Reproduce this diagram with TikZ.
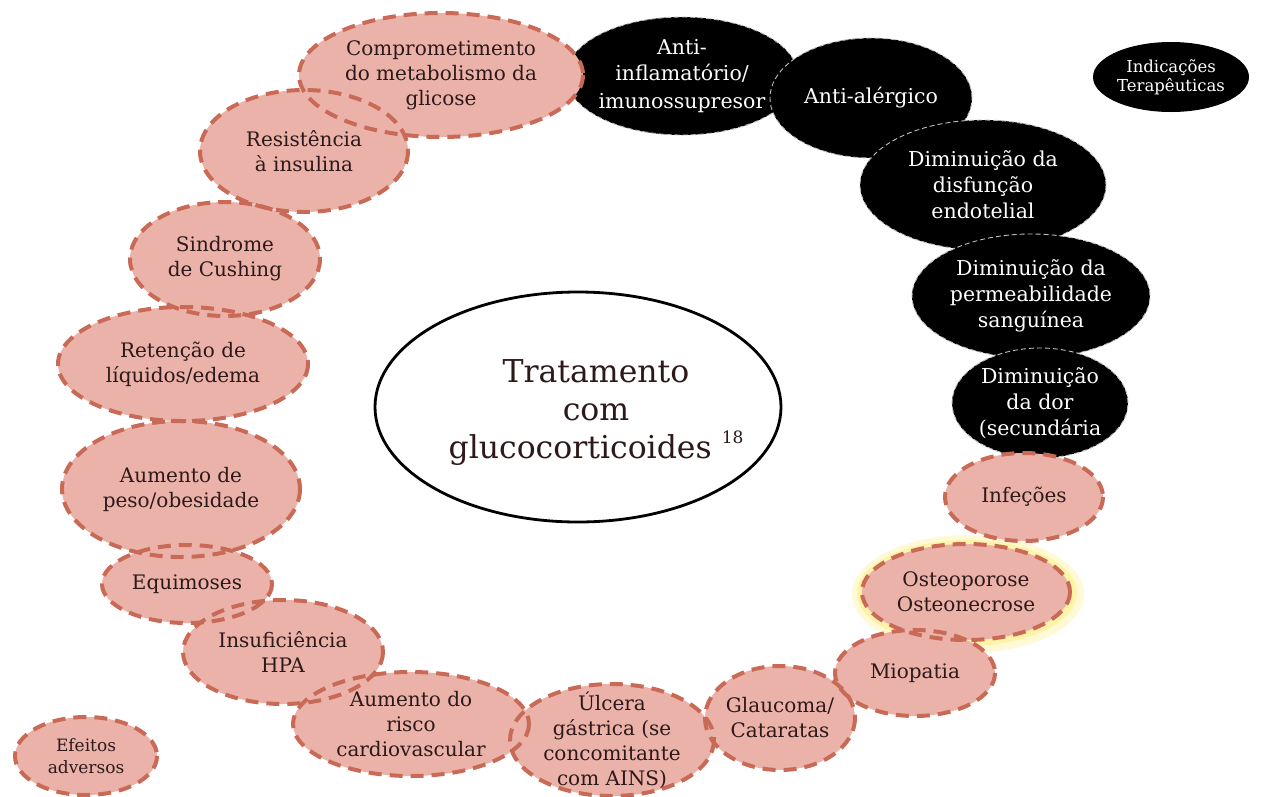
\documentclass[tikz,border=0pt]{standalone}
\usepackage{fontspec}
\setmainfont{DejaVu Serif}
\usetikzlibrary{shapes.geometric}

\definecolor{pinkfill}{RGB}{235,178,170}
\definecolor{pinkedge}{RGB}{200,106,86}
\definecolor{glowyellow}{RGB}{255,236,120}
\definecolor{inkbrown}{RGB}{45,25,25}

\tikzset{
  every node/.style={inner sep=0pt, outer sep=0pt},
  oval/.style n args={2}{ellipse, minimum width={2*#1 pt}, minimum height={2*#2 pt}},
  pinkfillsty/.style={fill=pinkfill},
  pinkedgesty/.style={draw=pinkedge, line width=4pt, dash pattern=on 13pt off 8pt},
  darkoval/.style={fill=black, draw=white!75!black, line width=0.9pt, dash pattern=on 5pt off 3pt},
  darktext/.style={text=white, align=center, font=\fontsize{20.5}{26}\selectfont},
  pinktext/.style={text=inkbrown, align=center, font=\fontsize{20}{25}\selectfont},
  hubsty/.style={draw=black, line width=2.8pt, fill=white},
  hubtext/.style={text=inkbrown, align=center, font=\fontsize{31.5}{38}\selectfont}
}

% name / centre x / centre y / half width / half height / label
\def\darkdata{%
  antiinf/682/76/116/59/{Anti-\\inflamatório/\\[2pt]imunossupresor},
  antial/871/98/101/60/{Anti-alérgico},
  disf/983/185/123/65/{Diminuição da\\disfunção\\endotelial},
  perm/1031/296/119/62/{Diminuição da\\permeabilidade\\sanguínea},
  dor/1040/403/88/55/{Diminuição\\da dor\\(secundária}}

\def\pinkdata{%
  metab/441/75/142/62/{Comprometimento\\do metabolismo da\\glicose},
  resist/304/151/104/61/{Resistência\\à insulina},
  cush/225/259/95/57/{Sindrome\\de Cushing},
  edema/183/364/125/57/{Retenção de\\líquidos/edema},
  peso/181/489/119/68/{Aumento de\\peso/obesidade},
  equim/187/584/85/39/{Equimoses},
  hpa/283/652/100/52/{Insuficiência\\HPA},
  cardio/411/724/118/52/{Aumento do\\risco\\cardiovascular},
  ulcera/612/740/102/56/{Úlcera\\gástrica (se\\concomitante\\com AINS)},
  glauc/780/718/75/52/{Glaucoma/\\Cataratas},
  miop/915/673/80/43/{Miopatia},
  osteo/966/592/104/48/{Osteoporose\\Osteonecrose},
  infec/1024/497/79/44/{Infeções},
  efeitos/86/756/71/39/{}}

\begin{document}
\begin{tikzpicture}[x=1pt, y=-1pt]
  \useasboundingbox (0,0) rectangle (1262,796);

  % therapeutic indications: dark ovals, each laid over the previous one
  \foreach \n/\cx/\cy/\rx/\ry/\t in \darkdata {
    \node[oval={\rx}{\ry}, darkoval] (\n) at (\cx,\cy) {};
  }
  \foreach \n/\cx/\cy/\rx/\ry/\t in \darkdata {
    \node[darktext] at (\n) {\t};
  }

  % soft halo around the bone effects
  \fill[glowyellow!30] (968,594) ellipse [x radius=116, y radius=59];
  \fill[glowyellow!65] (967,593) ellipse [x radius=110, y radius=53];

  % adverse effects: fills first, then the dashed rims on top
  \foreach \n/\cx/\cy/\rx/\ry/\t in \pinkdata {
    \node[oval={\rx}{\ry}, pinkfillsty] (\n) at (\cx,\cy) {};
  }
  \foreach \n/\cx/\cy/\rx/\ry/\t in \pinkdata {
    \draw[pinkedgesty] (\cx,\cy) ellipse [x radius=\rx, y radius=\ry];
  }
  \foreach \n/\cx/\cy/\rx/\ry/\t in \pinkdata {
    \node[pinktext] at (\n) {\t};
  }
  \node[pinktext, font=\fontsize{17}{22}\selectfont] at (efeitos) {Efeitos\\adversos};

  % legend oval for the indications
  \node[oval={78}{35}, fill=black] (indic) at (1171,77) {};
  \node[text=white, align=center, font=\fontsize{16.5}{19}\selectfont] at (indic) {Indicações\\Terapêuticas};

  % central topic
  \node[oval={203}{115}, hubsty] (hub) at (578,407) {};
  \node[hubtext] at ([xshift=18pt, yshift=-6pt]hub.center) {Tratamento\\com\\glucocorticoides \raisebox{0.5em}{\fontsize{17}{17}\selectfont 18}};
\end{tikzpicture}
\end{document}
